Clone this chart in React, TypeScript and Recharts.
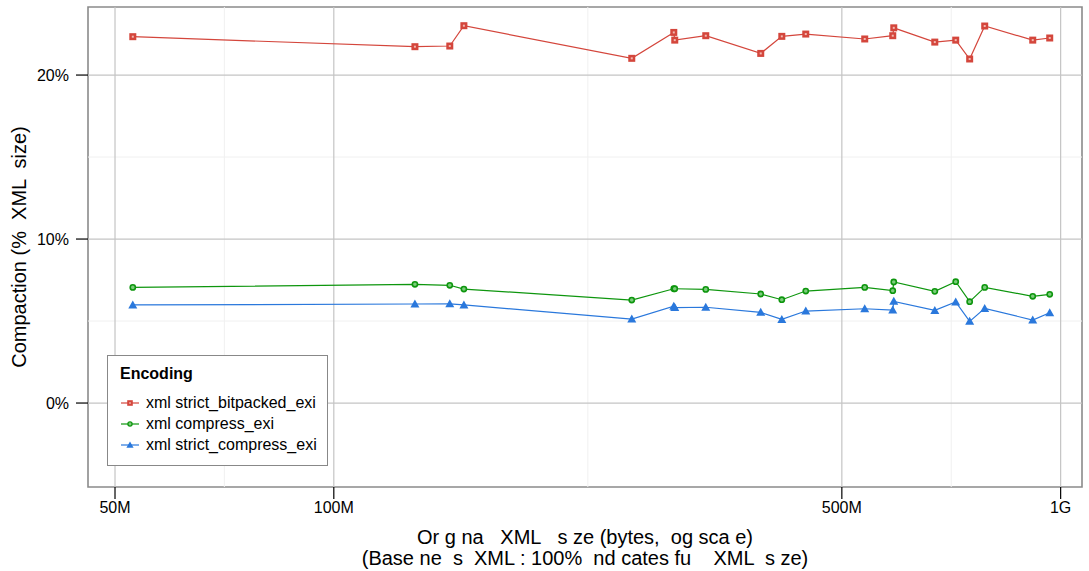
import {
  LineChart,
  Line,
  XAxis,
  YAxis,
  ReferenceLine,
  ReferenceArea,
} from "recharts";

// original file sizes in bytes (log axis)
const sizes = [
  52.9e6, 129.3e6, 144.4e6, 151.0e6, 257.0e6, 293.6e6, 294.5e6, 324.9e6,
  386.7e6, 413.4e6, 446.0e6, 537.6e6, 587.5e6, 589.4e6, 671.2e6, 717.2e6,
  749.6e6, 786.2e6, 915.4e6, 966.0e6,
];

const bitpacked = [
  22.34, 21.73, 21.77, 23.01, 21.02, 22.6, 22.13, 22.4, 21.32, 22.36, 22.5,
  22.2, 22.4, 22.88, 22.01, 22.13, 20.98, 22.99, 22.13, 22.26,
];
const compress = [
  7.05, 7.24, 7.18, 6.95, 6.28, 6.97, 6.97, 6.93, 6.65, 6.3, 6.83, 7.05, 6.85,
  7.38, 6.81, 7.4, 6.18, 7.05, 6.51, 6.63,
];
const strictCompress = [
  5.98, 6.04, 6.05, 5.98, 5.12, 5.9, 5.82, 5.84, 5.53, 5.1, 5.61, 5.75, 5.67,
  6.2, 5.65, 6.16, 4.98, 5.77, 5.06, 5.51,
];

const seriesNames = [
  "xml strict_bitpacked_exi",
  "xml compress_exi",
  "xml strict_compress_exi",
];

const xTicks = [50e6, 100e6, 500e6, 1e9];
const xTickLabels = ["50M", "100M", "500M", "1G"];
const xMinor = [70.7e6, 223.6e6, 707.1e6];
const yTicks = [0, 10, 20];
const yMinor = [5, 15];

const X_DOMAIN = [45.9e6, 1.07e9];
const Y_DOMAIN = [-5.12, 24.15];

const RED = "#d4463c";
const GREEN = "#0e960e";
const BLUE = "#2a78dc";
const FONT = "'Liberation Sans', Arial, sans-serif";

const toRows = (vals: number[]) => sizes.map((s, i) => ({ size: s, v: vals[i] }));

function SquareDot(props: any) {
  const { cx, cy } = props;
  if (cx == null || cy == null) return null;
  return (
    <g>
      <rect x={cx - 3.5} y={cy - 3.5} width={7} height={7} fill={RED} />
      <rect x={cx - 1} y={cy - 1} width={2} height={2} fill="#f2b8b0" />
    </g>
  );
}

function CircleDot(props: any) {
  const { cx, cy } = props;
  if (cx == null || cy == null) return null;
  return <circle cx={cx} cy={cy} r={2.6} fill="#7ccc7c" stroke={GREEN} strokeWidth={1.6} />;
}

function TriangleDot(props: any) {
  const { cx, cy } = props;
  if (cx == null || cy == null) return null;
  return (
    <path
      d={`M${cx},${cy - 4.5} L${cx + 4.5},${cy + 3.5} L${cx - 4.5},${cy + 3.5} Z`}
      fill={BLUE}
    />
  );
}

function LegendBox() {
  const items = [
    { name: seriesNames[0], color: RED, Dot: SquareDot },
    { name: seriesNames[1], color: GREEN, Dot: CircleDot },
    { name: seriesNames[2], color: BLUE, Dot: TriangleDot },
  ];
  return (
    <div
      style={{
        position: "absolute",
        left: 107,
        top: 355,
        width: 221,
        height: 111,
        border: "1.5px solid #888",
        background: "#fff",
        fontFamily: FONT,
        boxSizing: "border-box",
        padding: "9px 0 0 12px",
      }}
    >
      <div style={{ fontWeight: "bold", fontSize: 16, marginBottom: 9 }}>Encoding</div>
      {items.map((it) => (
        <div
          key={it.name}
          style={{ display: "flex", alignItems: "center", height: 21, fontSize: 16 }}
        >
          <svg width={26} height={14}>
            <line x1={1} y1={7} x2={19} y2={7} stroke={it.color} strokeWidth={1.2} />
            <g transform="translate(10,7) scale(0.8) translate(-10,-7)">
              <it.Dot cx={10} cy={7} />
            </g>
          </svg>
          <span style={{ whiteSpace: "pre" }}>{it.name}</span>
        </div>
      ))}
    </div>
  );
}

function XTitle(props: any) {
  const { viewBox } = props;
  const cx = viewBox.x + viewBox.width / 2;
  return (
    <text
      x={cx}
      y={viewBox.y + 57}
      textAnchor="middle"
      fontSize={20}
      fontFamily={FONT}
      fill="#000"
      style={{ whiteSpace: "pre" }}
    >
      <tspan x={cx}>Or g na   XML   s ze (bytes,  og sca e)</tspan>
      <tspan x={cx} dy={21}>(Base ne  s  XML : 100%  nd cates fu    XML  s ze)</tspan>
    </text>
  );
}

function YTitle(props: any) {
  const { viewBox } = props;
  const cy = viewBox.y + viewBox.height / 2;
  return (
    <text
      x={26}
      y={cy}
      transform={`rotate(-90, 26, ${cy})`}
      textAnchor="middle"
      fontSize={20}
      fontFamily={FONT}
      fill="#000"
      style={{ whiteSpace: "pre" }}
    >
      Compaction (%  XML  size)
    </text>
  );
}

export default function App() {
  return (
    <div style={{ position: "relative", width: 1089, height: 571, background: "#fff" }}>
      <style>{"body{margin:0}"}</style>
      <LineChart
        width={1089}
        height={571}
        margin={{ top: 7, right: 7, bottom: 0, left: 0 }}
      >
        {xMinor.map((v) => (
          <ReferenceLine key={"xm" + v} x={v} stroke="#f0f0f0" strokeWidth={1} />
        ))}
        {yMinor.map((v) => (
          <ReferenceLine key={"ym" + v} y={v} stroke="#f0f0f0" strokeWidth={1} />
        ))}
        {xTicks.map((v) => (
          <ReferenceLine key={"x" + v} x={v} stroke="#c4c4c4" strokeWidth={1.2} />
        ))}
        {yTicks.map((v) => (
          <ReferenceLine key={"y" + v} y={v} stroke="#c4c4c4" strokeWidth={1.2} />
        ))}
        <XAxis
          type="number"
          dataKey="size"
          scale="log"
          domain={X_DOMAIN}
          allowDataOverflow
          ticks={xTicks}
          tickFormatter={(v: number) => xTickLabels[xTicks.indexOf(v)] ?? ""}
          axisLine={false}
          tickSize={12}
          tickLine={{ stroke: "#000", strokeWidth: 1.2 }}
          tick={{ fill: "#000", fontSize: 16, fontFamily: FONT }}
          tickMargin={3}
          height={84}
          label={<XTitle />}
        />
        <YAxis
          type="number"
          domain={Y_DOMAIN}
          allowDataOverflow
          ticks={yTicks}
          tickFormatter={(v: number) => `${v}%`}
          axisLine={false}
          tickSize={12}
          tickLine={{ stroke: "#000", strokeWidth: 1.2 }}
          tick={{ fill: "#000", fontSize: 16, fontFamily: FONT }}
          tickMargin={7}
          width={88}
          label={<YTitle />}
        />
        <ReferenceArea
          x1={X_DOMAIN[0]}
          x2={X_DOMAIN[1]}
          y1={Y_DOMAIN[0]}
          y2={Y_DOMAIN[1]}
          fill="none"
          stroke="#8a8a8a"
          strokeWidth={1.6}
          ifOverflow="visible"
        />
        <Line
          data={toRows(bitpacked)}
          dataKey="v"
          name={seriesNames[0]}
          stroke={RED}
          strokeWidth={1.2}
          dot={<SquareDot />}
          isAnimationActive={false}
        />
        <Line
          data={toRows(compress)}
          dataKey="v"
          name={seriesNames[1]}
          stroke={GREEN}
          strokeWidth={1.2}
          dot={<CircleDot />}
          isAnimationActive={false}
        />
        <Line
          data={toRows(strictCompress)}
          dataKey="v"
          name={seriesNames[2]}
          stroke={BLUE}
          strokeWidth={1.2}
          dot={<TriangleDot />}
          isAnimationActive={false}
        />
      </LineChart>
      <LegendBox />
    </div>
  );
}
